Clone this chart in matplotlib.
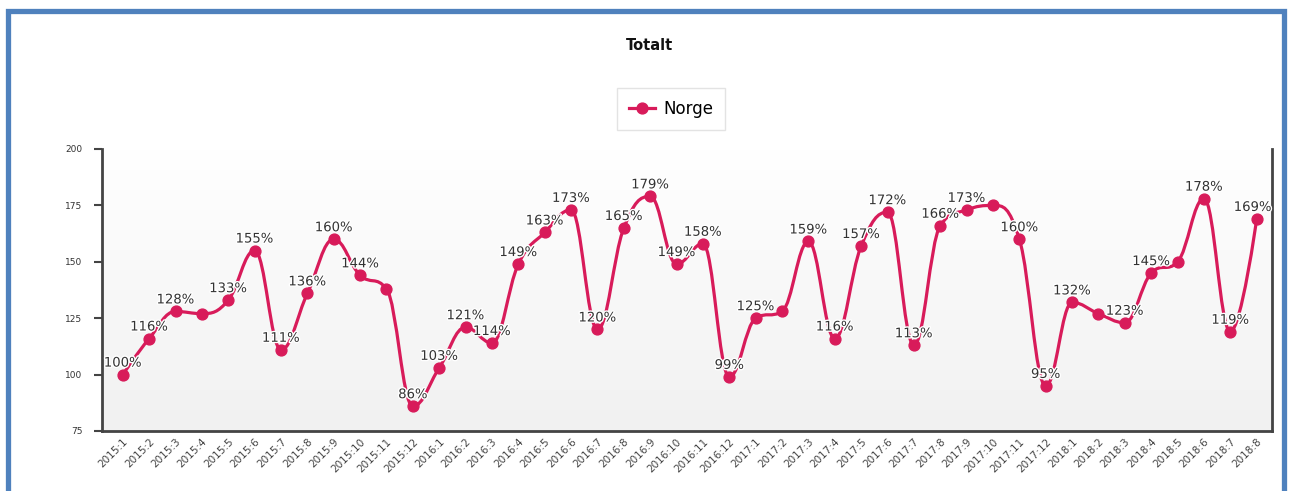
import numpy as np
import matplotlib
matplotlib.use("Agg")
import matplotlib.pyplot as plt
from matplotlib.path import Path
from matplotlib.patches import PathPatch, Rectangle
from matplotlib.lines import Line2D
from matplotlib.colors import LinearSegmentedColormap
import matplotlib.patheffects as pe

# ---- data ----
categories = ["2015:1", "2015:2", "2015:3", "2015:4", "2015:5", "2015:6", "2015:7", "2015:8",
              "2015:9", "2015:10", "2015:11", "2015:12",
              "2016:1", "2016:2", "2016:3", "2016:4", "2016:5", "2016:6", "2016:7", "2016:8",
              "2016:9", "2016:10", "2016:11", "2016:12",
              "2017:1", "2017:2", "2017:3", "2017:4", "2017:5", "2017:6", "2017:7", "2017:8",
              "2017:9", "2017:10", "2017:11", "2017:12",
              "2018:1", "2018:2", "2018:3", "2018:4", "2018:5", "2018:6", "2018:7", "2018:8"]
norge = [100, 116, 128, 127, 133, 155, 111, 136, 160, 144, 138, 86,
         103, 121, 114, 149, 163, 173, 120, 165, 179, 149, 158, 99,
         125, 128, 159, 116, 157, 172, 113, 166, 173, 175, 160, 95,
         132, 127, 123, 145, 150, 178, 119, 169]
# data labels shown in the reference (hidden ones are 0)
labels_shown = [1, 1, 1, 0, 1, 1, 1, 1, 1, 1, 0, 1,
                1, 1, 1, 1, 1, 1, 1, 1, 1, 1, 1, 1,
                1, 0, 1, 1, 1, 1, 1, 1, 1, 0, 1, 1,
                1, 0, 1, 1, 0, 1, 1, 1]
series_name = "Norge"
title = "Totalt"
y_ticks = [75, 100, 125, 150, 175, 200]

COLOR = "#d81b5a"
W, H = 1292, 491

fig = plt.figure(figsize=(W / 100, H / 100), dpi=100)
fig.patch.set_facecolor("white")

def fx(px):
    return px / W

def fy(py):
    return 1 - py / H

# blue frame
frame = Rectangle((fx(7.5), fy(497)), fx(1283.5) - fx(7.5), fy(10.5) - fy(497),
                  transform=fig.transFigure, fill=False, edgecolor="#4f81bd", lw=3.8,
                  zorder=0)
fig.patches.append(frame)

pos = [fx(101.7), fy(431), fx(1272) - fx(101.7), fy(149) - fy(431)]

# gradient plot background
ax_bg = fig.add_axes(pos, zorder=0)
cmap = LinearSegmentedColormap.from_list("bg", ["#ffffff", "#f1f1f1"])
ax_bg.imshow(np.linspace(0, 1, 256).reshape(-1, 1), aspect="auto", cmap=cmap,
             extent=[0, 1, 0, 1])
ax_bg.axis("off")

ax = fig.add_axes(pos, zorder=1)
ax.patch.set_alpha(0)

x = np.arange(len(norge))
y = np.array(norge, dtype=float)

# Highcharts-style spline
smoothing, denom = 1.5, 2.5
n = len(x)
lc = [None] * n
rc = [None] * n
for i in range(n):
    px_, py_ = x[i], y[i]
    if 0 < i < n - 1:
        lx, ly = x[i - 1], y[i - 1]
        nx, ny = x[i + 1], y[i + 1]
        lcx = (smoothing * px_ + lx) / denom
        lcy = (smoothing * py_ + ly) / denom
        rcx = (smoothing * px_ + nx) / denom
        rcy = (smoothing * py_ + ny) / denom
        if rcx != lcx:
            corr = ((rcy - lcy) * (rcx - px_)) / (rcx - lcx) + py_ - rcy
            lcy += corr
            rcy += corr
        if lcy > ly and lcy > py_:
            lcy = max(ly, py_)
            rcy = 2 * py_ - lcy
        elif lcy < ly and lcy < py_:
            lcy = min(ly, py_)
            rcy = 2 * py_ - lcy
        if rcy > ny and rcy > py_:
            rcy = max(ny, py_)
            lcy = 2 * py_ - rcy
        elif rcy < ny and rcy < py_:
            rcy = min(ny, py_)
            lcy = 2 * py_ - rcy
        lc[i] = (lcx, lcy)
        rc[i] = (rcx, rcy)
    else:
        lc[i] = (px_, py_)
        rc[i] = (px_, py_)

verts = [(x[0], y[0])]
codes = [Path.MOVETO]
for i in range(1, n):
    verts += [rc[i - 1], lc[i], (x[i], y[i])]
    codes += [Path.CURVE4] * 3
path = Path(verts, codes)
ax.add_patch(PathPatch(path, fill=False, edgecolor=COLOR, lw=2.3, capstyle="round",
                       joinstyle="round", zorder=3))
ax.plot(x, y, linestyle="none", marker="o", markersize=7.8, color=COLOR, zorder=4)

for i, (xi, yi) in enumerate(zip(x, y)):
    if labels_shown[i]:
        dx = 0
        if i == n - 1:
            dx = -4
        ax.annotate(f"{int(yi)}%", (xi, yi), xytext=(dx, 5), textcoords="offset pixels",
                    ha="center", va="bottom", fontsize=9.5, color="#333333", zorder=5,
                    path_effects=[pe.withStroke(linewidth=2, foreground="white")])

ax.set_xlim(-0.8, n - 1 + 0.58)
ax.set_ylim(75, 200)
ax.set_yticks(y_ticks)
ax.set_yticklabels([str(t) for t in y_ticks], fontsize=6.5, color="#333333")
ax.set_xticks(x)
ax.set_xticklabels(categories, rotation=45, ha="right", rotation_mode="anchor",
                   fontsize=7.5, color="#444444")
ax.tick_params(axis="x", length=0, pad=4)
ax.tick_params(axis="y", length=6, width=1.5, color="#444444", pad=8)
for s in ["left", "bottom", "right"]:
    ax.spines[s].set_color("#444444")
    ax.spines[s].set_linewidth(2)
ax.spines["top"].set_visible(False)

# title
fig.text(fx(650), fy(46), title, ha="center", va="center", fontsize=10.5,
         fontweight="bold", color="#111111")

# legend
handle = Line2D([], [], color=COLOR, lw=2.3, marker="o", markersize=7.8)
leg = fig.legend([handle], [series_name], loc="center", bbox_to_anchor=(fx(671), fy(109)),
                 fontsize=12, frameon=True, fancybox=False, handlelength=1.6,
                 handletextpad=0.5, borderpad=0.7)
leg.get_frame().set_edgecolor("#dddddd")
leg.get_frame().set_linewidth(1)

fig.savefig("out.png", dpi=100)
